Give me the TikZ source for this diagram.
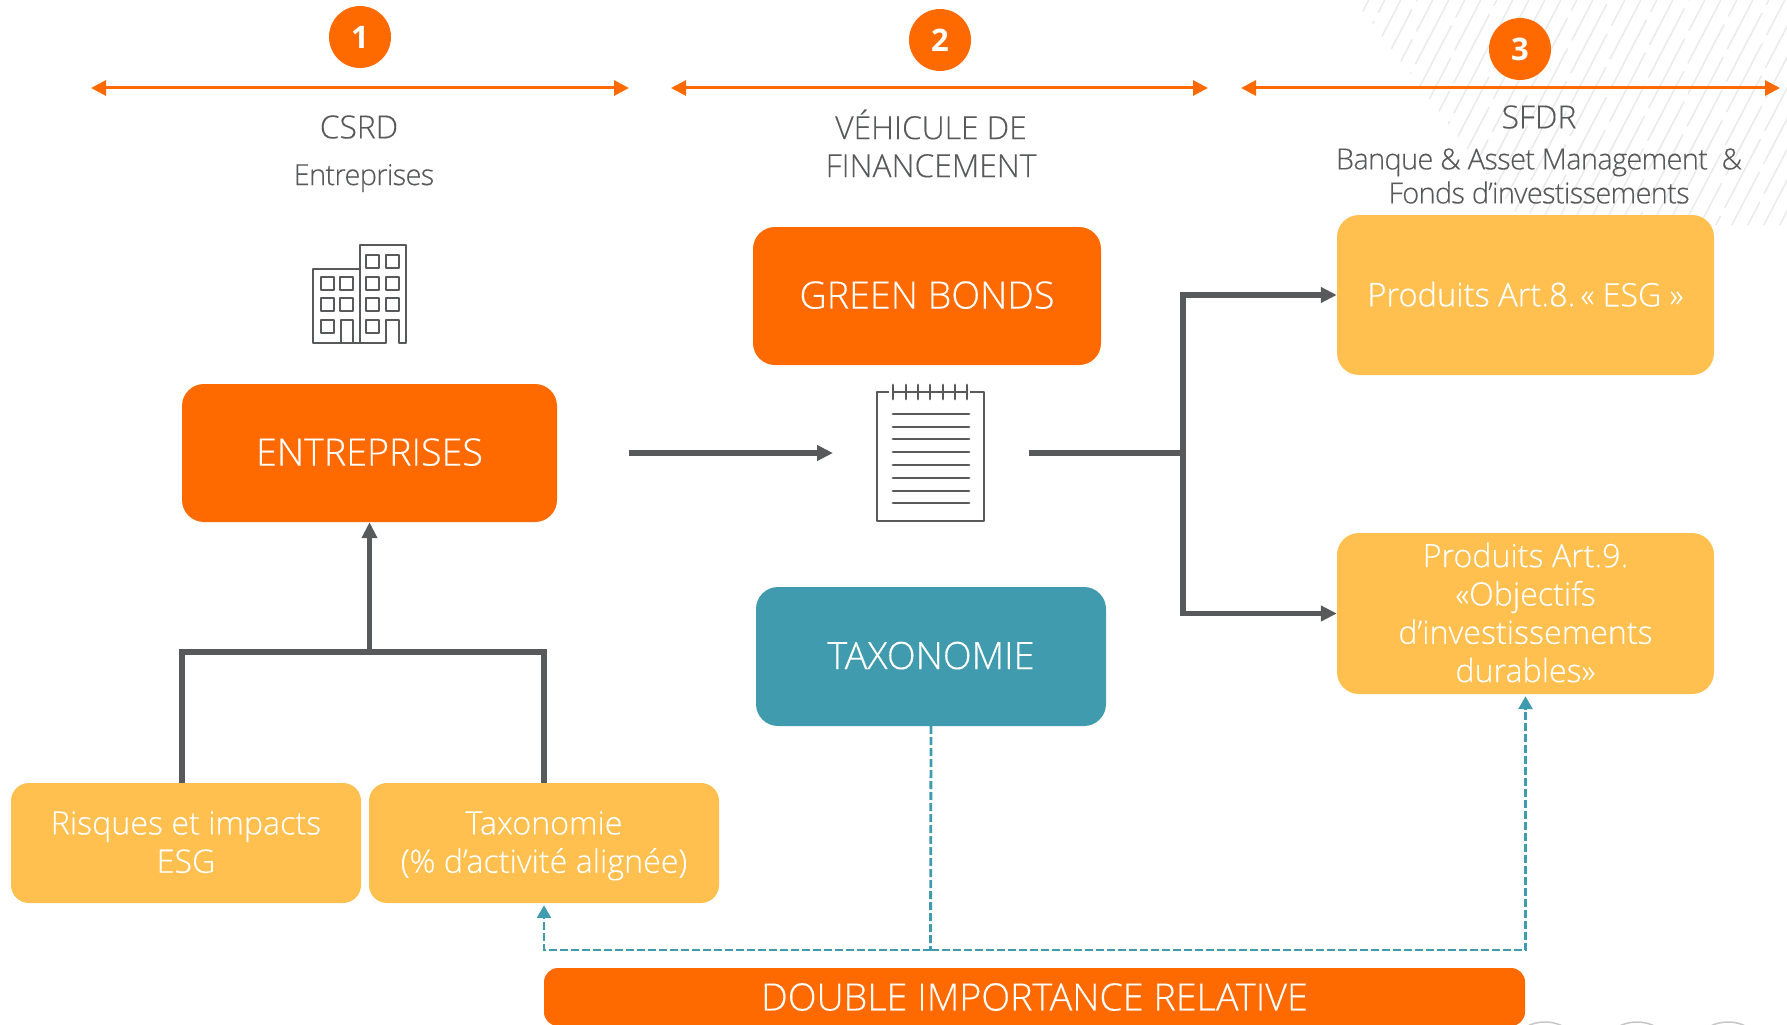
\documentclass[tikz,border=0pt]{standalone}
\usepackage{fontspec}
\setmainfont{Open Sans Light}[FakeBold=0.25]
\newfontfamily\numfont{Open Sans Bold}
\newcommand{\uptext}[1]{\raisebox{2.2pt}{#1}}
\usetikzlibrary{arrows.meta,calc}
\definecolor{orng}{HTML}{FF6A00}
\definecolor{yell}{HTML}{FFC04F}
\definecolor{teal1}{HTML}{3F9BAD}
\definecolor{drk}{HTML}{58595B}
\definecolor{hatch}{HTML}{EBEBEB}
\tikzset{
  x=1pt,y=-1pt,
  box/.style={rounded corners=22pt,inner sep=0pt,align=center,text=white,font=\fontsize{37.7}{38}\selectfont},
  ybox/.style={rounded corners=22pt,fill=yell,inner sep=0pt,align=center,text=white,font=\fontsize{32.2}{38.3}\selectfont},
  num/.style={circle,fill=orng,minimum size=62pt,inner sep=0pt,text=white,font=\fontsize{31}{31}\selectfont\numfont},
  head/.style={text=drk,align=center,inner sep=0pt,font=\fontsize{31.8}{38}\selectfont},
  sub/.style={text=drk,align=center,inner sep=0pt,font=\fontsize{29}{34}\selectfont\addfontfeature{LetterSpace=-2.4}},
  span/.style={draw=orng,line width=3pt,{Triangle[length=15pt,width=15pt]}-{Triangle[length=15pt,width=15pt]}},
  flow/.style={draw=drk,line width=5.2pt},
  flowarrow/.style={flow,-{Triangle[length=16pt,width=15pt]}},
  dashlink/.style={draw=teal1,line width=2.8pt,dash pattern=on 8pt off 3pt},
  dasharrow/.style={dashlink,-{Triangle[length=13pt,width=14pt]}},
  icon/.style={draw=drk,line width=2.8pt,line join=round},
}
\begin{document}
\begin{tikzpicture}
\useasboundingbox (0,0) rectangle (1787,1024.5);
% hatched background
\begin{scope}
\clip (1358,0) -- (1787,0) -- (1787,225) -- (1525,225) -- (1358,5) -- cycle;
\foreach \k [evaluate=\k as \ph using {mod((\k+10)*37,90)}] in {-8,...,42}{
  \draw[hatch,line width=1.6pt,dash pattern=on 78pt off 9pt,dash phase=\ph pt]
    ({1340+\k*16},240) -- ({1340+\k*16+130},-10);
}
\end{scope}
% bottom arcs
\begin{scope}
\clip (1500,1000) rectangle (1787,1026);
\foreach \cx in {1545,1637,1728}{
  \draw[gray!45,line width=1.5pt] (\cx,1062) circle[radius=40];
}
\end{scope}
% numbers
\node[num] (n1) at (360,37) {1};
\node[num] (n2) at (940,40) {2};
\node[num] (n3) at (1520,49) {3};
% spans
\coordinate (s1a) at (91,88); \coordinate (s1b) at (629,88);
\coordinate (s2a) at (671,88); \coordinate (s2b) at (1208,88);
\coordinate (s3a) at (1241,88); \coordinate (s3b) at (1780,88);
\draw[span] (s1a) -- (s1b);
\draw[span] (s2a) -- (s2b);
\draw[span] (s3a) -- (s3b);
% headings
\node[head] (h1) at (359,127) {CSRD};
\node[sub] (h1b) at (364,178) {Entreprises};
\node[head] (h2) at (931,143.5) {VÉHICULE DE\\FINANCEMENT};
\node[head] (h3) at (1539,117) {SFDR};
\node[sub] (h3b) at (1539,176) {Banque \& Asset Management\ \ \&\\Fonds d’investissements};
% boxes
\node[box,fill=orng,minimum width=348pt,minimum height=138pt] (gb) at (927,296) {\uptext{GREEN BONDS}};
\node[box,fill=orng,minimum width=375pt,minimum height=138pt] (ent) at (369.5,453) {\uptext{ENTREPRISES}};
\node[box,fill=teal1,minimum width=350pt,minimum height=139pt] (tax) at (931,656.5) {\uptext{TAXONOMIE}};
\node[ybox,minimum width=377pt,minimum height=160pt] (art8) at (1525.5,295) {\uptext{{\fontsize{32.6}{34}\selectfont\addfontfeature{FakeBold=0.6}Produits Art.8.}\hspace{5pt}«\ ESG\ »}};
\node[ybox,minimum width=377pt,minimum height=161pt] (art9) at (1525.5,613.5) {\uptext{Produits Art.9.}\\\uptext{«Objectifs}\\\uptext{d’investissements}\\\uptext{durables»}};
\node[ybox,rounded corners=18pt,minimum width=350pt,minimum height=120pt] (risk) at (186,843) {\uptext{Risques et impacts}\\\uptext{ESG}};
\node[ybox,rounded corners=18pt,minimum width=350pt,minimum height=120pt] (taxo) at (544,843) {\uptext{Taxonomie}\\\uptext{\smash{(\% d’activité alignée)}\vphantom{ESG}}};
\node[box,fill=orng,rounded corners=14pt,minimum width=981pt,minimum height=58pt] (dim) at (1034.5,997) {DOUBLE IMPORTANCE RELATIVE};
% building icon
\node[minimum width=93pt,minimum height=98pt,inner sep=0pt] (bld) at (360,294) {};
\draw[icon] (341,343) -- (313,343) -- (313,269) -- (360,269) -- (360,343) -- (341,343) -- (341,320) -- (353,320) -- (353,343) -- (360,343);
\draw[icon] (360,269) -- (360,245) -- (406,245) -- (406,343) -- (399,343) -- (399,320) -- (386,320) -- (386,343) -- (360,343);
\foreach \x/\y in {366/255,386/255,366/277,386/277,366/298,386/298,366/320,321/277,340/277,321/298,340/298,321/320}{
  \draw[icon] (\x,\y) rectangle ++(13,13);
}
% notepad icon
\node[minimum width=107pt,minimum height=136pt,inner sep=0pt] (pad) at (930.5,453) {};
\draw[icon] (889,392) -- (877,392) -- (877,521) -- (984,521) -- (984,392) -- (970,392);
\draw[icon] (893,392) -- (967,392);
\foreach \x in {893,906,918,930,943,955,967}{
  \draw[icon,line cap=round] (\x,385) -- (\x,399);
}
\foreach \y in {414,427,439,452,465,478,491,503}{
  \draw[icon,line cap=round] (893,\y) -- (969,\y);
}
% grey connectors
\coordinate (entout) at (629,453);
\coordinate (padin) at (833,453);
\coordinate (padout) at (1029,453);
\coordinate (fork) at (1183,453);
\coordinate (brL) at (182,783);
\coordinate (brJ) at (369.5,652);
\draw[flowarrow] (entout) -- (padin);
\draw[flow] (padout) -- (fork);
\draw[flowarrow] (fork) |- (art8.west);
\draw[flowarrow] (fork) |- (art9.west);
\draw[flow] (brL) |- (brJ);
\draw[flow] (taxo.north) |- (brJ);
\draw[flowarrow] (brJ) -- (ent.south);
% dashed connectors
\coordinate (dj) at (930.5,950);
\draw[dashlink] (tax.south) -- (dj);
\draw[dasharrow] (dj) -| ($(taxo.south)+(0,2)$);
\draw[dasharrow] (dj) -| ($(art9.south)+(0,2)$);
\end{tikzpicture}
\end{document}
